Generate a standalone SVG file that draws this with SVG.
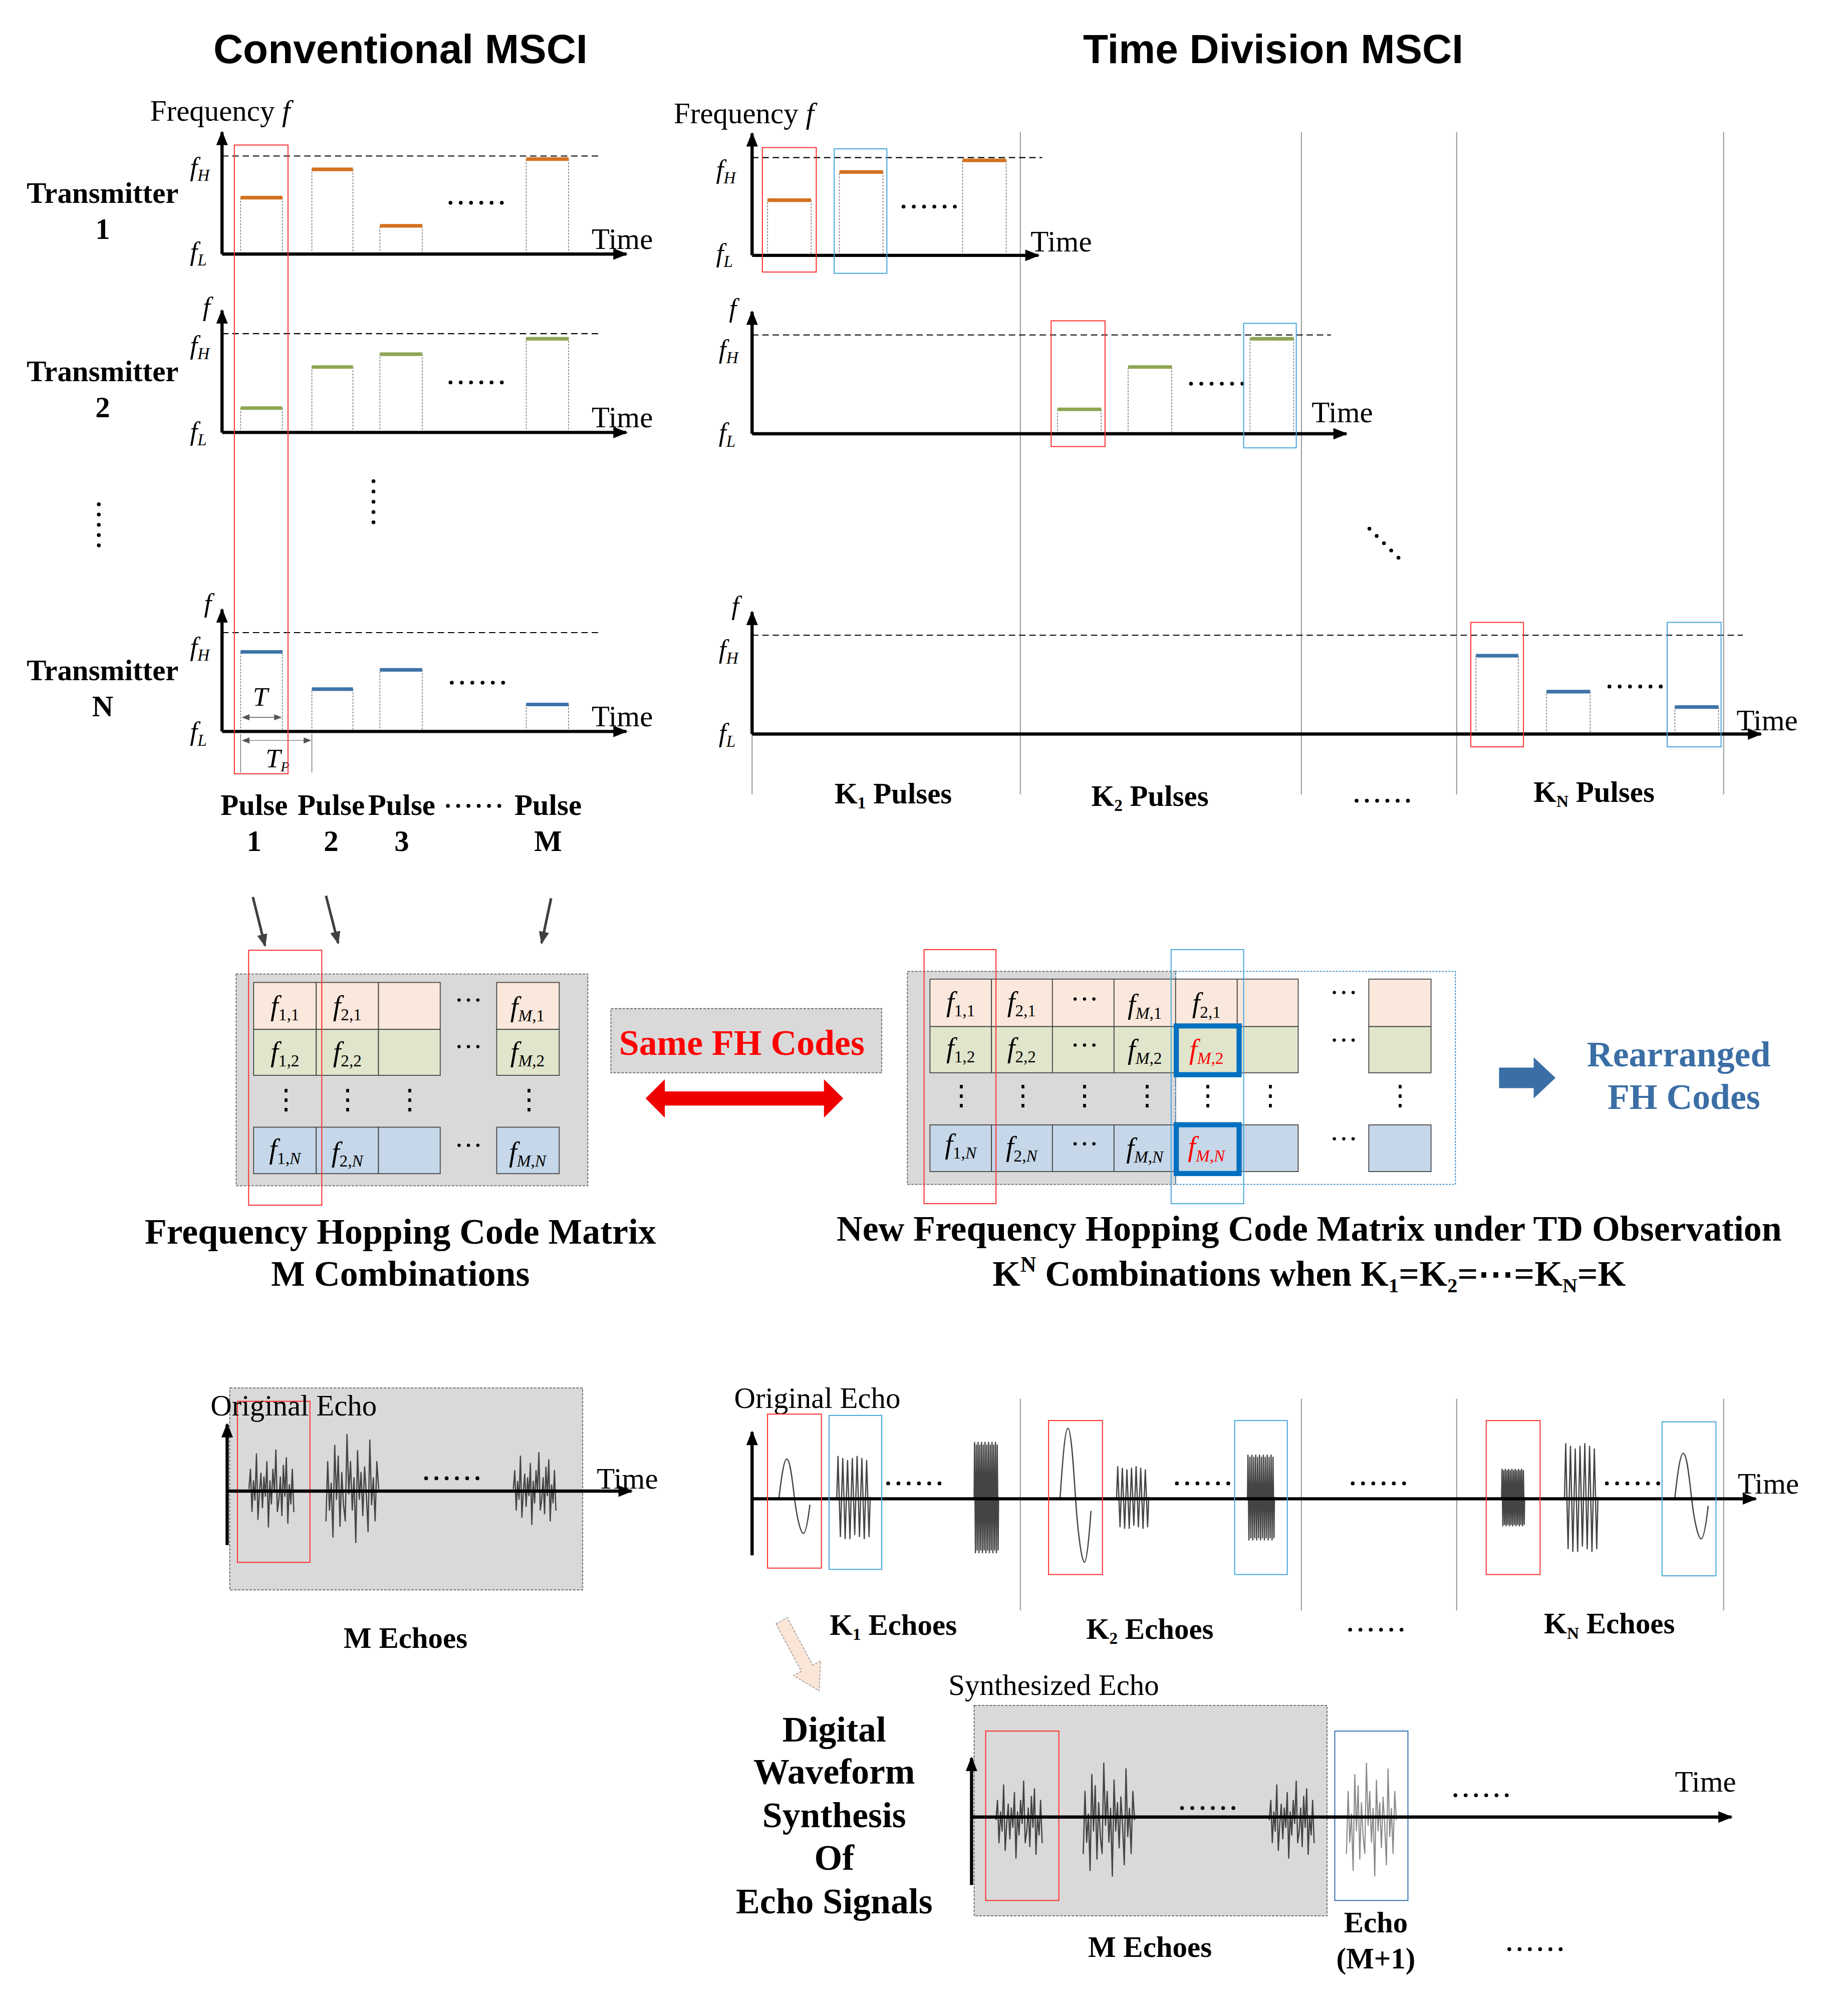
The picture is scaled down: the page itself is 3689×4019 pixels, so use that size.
<svg xmlns="http://www.w3.org/2000/svg" xmlns:xlink="http://www.w3.org/1999/xlink" width="3689" height="4019" viewBox="0 0 3689 4019">
<style>
.t{font-family:"Liberation Serif",serif;font-size:23px}
.tb{font-family:"Liberation Serif",serif;font-weight:bold;font-size:23px}
.cap{font-family:"Liberation Serif",serif;font-weight:bold;font-size:28px}
.ttl{font-family:"Liberation Sans",sans-serif;font-weight:bold;font-size:32px}
.fi{font-family:"Liberation Serif",serif;font-style:italic;font-size:21px}
.cell{font-family:"Liberation Serif",serif;font-size:22px}
.ax{stroke:#000;stroke-width:2.5;fill:none}
.dash{stroke:#000;stroke-width:0.8;stroke-dasharray:5 3;fill:none}
.bar{stroke:#777;stroke-width:0.6;stroke-dasharray:1.5 1;fill:none}
.or{stroke:#d3711f;stroke-width:2.8}
.gr{stroke:#8ea553;stroke-width:2.8}
.bl{stroke:#3e73a9;stroke-width:2.8}
.rb{fill:none;stroke:#f33;stroke-width:0.8}
.bb{fill:none;stroke:#49a6dc;stroke-width:0.8}
.vl{stroke:#999;stroke-width:0.8}
.dots{stroke:#000;stroke-width:3;stroke-linecap:round;stroke-dasharray:0 8}
.wv{fill:none;stroke:#444;stroke-width:2.5px}
.wl{fill:none;stroke:#888;stroke-width:2.2px}
.ns{vector-effect:non-scaling-stroke;stroke-linejoin:round;stroke-linecap:round}
.gbox{fill:#d9d9d9;stroke:#666;stroke-width:0.7;stroke-dasharray:2 1}
.c1{fill:#fbe8dc;stroke:#444;stroke-width:0.7}
.c2{fill:#e0e5cc;stroke:#444;stroke-width:0.7}
.c3{fill:#c5d7e8;stroke:#444;stroke-width:0.7}
.sm{font-size:13px}
</style>
<defs>
<marker id="ah" viewBox="0 0 10 8" refX="9" refY="4" markerWidth="12" markerHeight="9" markerUnits="userSpaceOnUse" orient="auto"><path d="M0,0L10,4L0,8z" fill="#000"/></marker>
<marker id="ah2" viewBox="0 0 10 8" refX="9" refY="4" markerWidth="10" markerHeight="8" markerUnits="userSpaceOnUse" orient="auto"><path d="M0,0L10,4L0,8z" fill="#404040"/></marker>
<marker id="sa" viewBox="0 0 10 8" refX="9" refY="4" markerWidth="6" markerHeight="5" markerUnits="userSpaceOnUse" orient="auto-start-reverse"><path d="M0,0L10,4L0,8z" fill="#555"/></marker>
<polyline id="n1" class="ns" points="0,0 1.2,-0.5 2.4,0.6 3.6,-0.2 4.8,0.3 6,-0.9 7.2,0.8 8.4,0.1 9.6,-0.4 10.8,0.5 12,-0.3 13.2,0.2 14.4,-0.7 15.6,1 16.8,-0.2 18,0.4 19.2,-0.5 20.4,0.1 21.6,-1 22.8,0.6 24,0.3 25.2,-0.3 26.4,0.7 27.6,-0.6 28.8,0.2 30,-0.8 31.2,0.9 32.4,-0.1 33.6,0.4 34.8,-0.5 36,0.6"/>
<polyline id="zzA" class="ns" points="0,0 0.5,-1 1.5,0.95 2.5,-0.95 3.5,1 4.5,-0.9 5.5,1 6.5,-0.95 7.5,0.9 8.5,-1 9.5,0.95 10.5,-0.95 11.5,1 12.5,-0.9 13.5,0.95 14,0"/>
<polyline id="zzB" class="ns" points="0,0 0.5,-1 1.5,1 2.5,-0.95 3.5,0.95 4.5,-1 5.5,1 6.5,-0.95 7.5,0.95 8.5,-1 9.5,1 10.5,-0.95 11.5,0.95 12.5,-1 13.5,1 14.5,-0.95 15.5,0.95 16.5,-1 17.5,1 18.5,-0.95 19.5,0.95 20.5,-1 21.5,1 22.5,-0.95 23.5,0.95 24.5,-1 25.5,1 26.5,-0.95 27.5,0.95 28,0"/>
<path id="sine" class="ns" d="M0,0 C2,-17 4,-30 6,-30 C9,-30 11,-7 12,0 C14,17 17,28 19,28 C21,28 23,14 24,6"/>
</defs>
<rect width="3689" height="4019" fill="#fff"/>
<g transform="scale(2.562)">
<g id="titles">
<text class="ttl" x="312" y="49" text-anchor="middle">Conventional MSCI</text>
<text class="ttl" x="992" y="49" text-anchor="middle">Time Division MSCI</text>
</g>

<g id="conventional-panels">
<text class="t" x="117" y="94">Frequency <tspan font-style="italic">f</tspan></text>
<line class="dash" x1="173" y1="121.6" x2="467" y2="121.6"/>
<path class="bar" d="M187.5,198V154M220,154V198M243,198V132M275,132V198M296,198V176M329,176V198M410,198V124M443,124V198"/>
<line class="or" x1="187.5" y1="154" x2="220" y2="154"/><line class="or" x1="243" y1="132" x2="275" y2="132"/><line class="or" x1="296" y1="176" x2="329" y2="176"/><line class="or" x1="410" y1="124" x2="443" y2="124"/>
<line class="ax" x1="173" y1="198" x2="173" y2="103" marker-end="url(#ah)"/>
<line class="ax" x1="173" y1="198" x2="488" y2="198" marker-end="url(#ah)"/>
<line class="dots" x1="351" y1="158" x2="392" y2="158"/>
<text class="t" x="461" y="194">Time</text>
<text class="fi" x="148" y="137">f<tspan class="sm" dy="4">H</tspan></text>
<text class="fi" x="148" y="203">f<tspan class="sm" dy="4">L</tspan></text>
<text class="tb" x="80" y="158" text-anchor="middle">Transmitter</text>
<text class="tb" x="80" y="186" text-anchor="middle">1</text>
<line class="dash" x1="173" y1="260" x2="467" y2="260"/>
<path class="bar" d="M187.5,337V318M220,318V337M243,337V286M275,286V337M296,337V276M329,276V337M410,337V263M443,263V337"/>
<line class="gr" x1="187.5" y1="318" x2="220" y2="318"/><line class="gr" x1="243" y1="286" x2="275" y2="286"/><line class="gr" x1="296" y1="276" x2="329" y2="276"/><line class="gr" x1="410" y1="264" x2="443" y2="264"/>
<line class="ax" x1="173" y1="337" x2="173" y2="242" marker-end="url(#ah)"/>
<line class="ax" x1="173" y1="337" x2="488" y2="337" marker-end="url(#ah)"/>
<line class="dots" x1="351" y1="298" x2="392" y2="298"/>
<text class="t" x="461" y="333">Time</text>
<text class="fi" x="158" y="246">f</text>
<text class="fi" x="148" y="276">f<tspan class="sm" dy="4">H</tspan></text>
<text class="fi" x="148" y="343">f<tspan class="sm" dy="4">L</tspan></text>
<text class="tb" x="80" y="297" text-anchor="middle">Transmitter</text>
<text class="tb" x="80" y="325" text-anchor="middle">2</text>
<line class="dots" x1="77" y1="393" x2="77" y2="432"/>
<line class="dots" x1="291" y1="375" x2="291" y2="414"/>
<line class="dash" x1="173" y1="493" x2="467" y2="493"/>
<path class="bar" d="M187.5,570V507M220,507V570M243,570V537M275,537V570M296,570V522M329,522V570M410,570V549M443,549V570"/>
<line class="bl" x1="187.5" y1="508" x2="220" y2="508"/><line class="bl" x1="243" y1="537" x2="275" y2="537"/><line class="bl" x1="296" y1="522" x2="329" y2="522"/><line class="bl" x1="410" y1="549" x2="443" y2="549"/>
<line class="ax" x1="173" y1="570" x2="173" y2="475" marker-end="url(#ah)"/>
<line class="ax" x1="173" y1="570" x2="488" y2="570" marker-end="url(#ah)"/>
<line class="dots" x1="352" y1="532" x2="393" y2="532"/>
<text class="t" x="461" y="566">Time</text>
<text class="fi" x="159" y="477">f</text>
<text class="fi" x="148" y="511">f<tspan class="sm" dy="4">H</tspan></text>
<text class="fi" x="148" y="577">f<tspan class="sm" dy="4">L</tspan></text>
<text class="tb" x="80" y="530" text-anchor="middle">Transmitter</text>
<text class="tb" x="80" y="558" text-anchor="middle">N</text>
<line stroke="#555" stroke-width="0.6" x1="189" y1="559" x2="219" y2="559" marker-start="url(#sa)" marker-end="url(#sa)"/>
<text class="fi" x="197" y="550" font-size="18">T</text>
<path stroke="#666" stroke-width="0.5" d="M187.5,572V602M243,572V602"/>
<line stroke="#555" stroke-width="0.4" x1="189" y1="577" x2="242" y2="577" marker-start="url(#sa)" marker-end="url(#sa)"/>
<text class="fi" x="207" y="598" font-size="17">T<tspan font-size="11" dy="3">P</tspan></text>
<rect class="rb" x="182.6" y="113" width="41.8" height="490"/>
<text class="tb" x="198" y="635" text-anchor="middle">Pulse</text><text class="tb" x="198" y="663" text-anchor="middle">1</text>
<text class="tb" x="258" y="635" text-anchor="middle">Pulse</text><text class="tb" x="258" y="663" text-anchor="middle">2</text>
<text class="tb" x="313" y="635" text-anchor="middle">Pulse</text><text class="tb" x="313" y="663" text-anchor="middle">3</text>
<line class="dots" x1="349" y1="628" x2="390" y2="628"/>
<text class="tb" x="427" y="635" text-anchor="middle">Pulse</text><text class="tb" x="427" y="663" text-anchor="middle">M</text>
</g>

<g id="td-panels">
<path class="vl" d="M795,103V619M1014,103V619M1135,103V619M1343,103V619M586,572V619"/>
<text class="t" x="525" y="96">Frequency <tspan font-style="italic">f</tspan></text>
<line class="dash" x1="586" y1="122.8" x2="812" y2="122.8"/>
<path class="bar" d="M598,199V156M632,156V199M654,199V134M688,134V199M750,199V125M784,125V199"/>
<line class="or" x1="598" y1="156" x2="632" y2="156"/><line class="or" x1="654" y1="134" x2="688" y2="134"/><line class="or" x1="750" y1="125" x2="784" y2="125"/>
<line class="ax" x1="586" y1="199" x2="586" y2="104" marker-end="url(#ah)"/>
<line class="ax" x1="586" y1="199" x2="809" y2="199" marker-end="url(#ah)"/>
<line class="dots" x1="704" y1="161" x2="745" y2="161"/>
<text class="t" x="803" y="196">Time</text>
<text class="fi" x="558" y="139">f<tspan class="sm" dy="4">H</tspan></text>
<text class="fi" x="558" y="204">f<tspan class="sm" dy="4">L</tspan></text>
<rect class="rb" x="594" y="115" width="42" height="97"/>
<rect class="bb" x="650" y="116" width="41" height="97"/>

<line class="dash" x1="586" y1="261" x2="1037" y2="261"/>
<path class="bar" d="M824,338V319M858,319V338M879,338V286M913,286V338M974,338V264M1008,264V338"/>
<line class="gr" x1="824" y1="319" x2="858" y2="319"/><line class="gr" x1="879" y1="286" x2="913" y2="286"/><line class="gr" x1="974" y1="264" x2="1008" y2="264"/>
<line class="ax" x1="586" y1="338" x2="586" y2="243" marker-end="url(#ah)"/>
<line class="ax" x1="586" y1="338" x2="1049" y2="338" marker-end="url(#ah)"/>
<line class="dots" x1="928" y1="299" x2="969" y2="299"/>
<text class="t" x="1022" y="329">Time</text>
<text class="fi" x="568" y="247">f</text>
<text class="fi" x="560" y="279">f<tspan class="sm" dy="4">H</tspan></text>
<text class="fi" x="560" y="344">f<tspan class="sm" dy="4">L</tspan></text>
<rect class="rb" x="819" y="250" width="42" height="98"/>
<rect class="bb" x="969" y="252" width="41" height="97"/>

<line class="dots" x1="1067" y1="412" x2="1095" y2="440"/>

<line class="dash" x1="586" y1="495" x2="1358" y2="495"/>
<path class="bar" d="M1150,572V511M1183,511V572M1205,572V539M1239,539V572M1305,572V551M1339,551V572"/>
<line class="bl" x1="1150" y1="511" x2="1183" y2="511"/><line class="bl" x1="1205" y1="539" x2="1239" y2="539"/><line class="bl" x1="1305" y1="551" x2="1339" y2="551"/>
<line class="ax" x1="586" y1="572" x2="586" y2="477" marker-end="url(#ah)"/>
<line class="ax" x1="586" y1="572" x2="1372" y2="572" marker-end="url(#ah)"/>
<line class="dots" x1="1254" y1="535" x2="1295" y2="535"/>
<text class="t" x="1353" y="569">Time</text>
<text class="fi" x="570" y="479">f</text>
<text class="fi" x="560" y="513">f<tspan class="sm" dy="4">H</tspan></text>
<text class="fi" x="560" y="578">f<tspan class="sm" dy="4">L</tspan></text>
<rect class="rb" x="1146" y="485" width="41" height="97"/>
<rect class="bb" x="1299" y="485" width="42" height="97"/>

<text class="tb" x="696" y="626" text-anchor="middle">K<tspan class="sm" dy="4">1</tspan><tspan dy="-4"> Pulses</tspan></text>
<text class="tb" x="896" y="628" text-anchor="middle">K<tspan class="sm" dy="4">2</tspan><tspan dy="-4"> Pulses</tspan></text>
<line class="dots" x1="1057" y1="624" x2="1098" y2="624"/>
<text class="tb" x="1242" y="625" text-anchor="middle">K<tspan class="sm" dy="4">N</tspan><tspan dy="-4"> Pulses</tspan></text>
</g>

<g id="connectors">
<line stroke="#404040" stroke-width="2" x1="197" y1="699" x2="206.5" y2="737" marker-end="url(#ah2)"/>
<line stroke="#404040" stroke-width="2" x1="254" y1="698" x2="263.5" y2="735" marker-end="url(#ah2)"/>
<line stroke="#404040" stroke-width="2" x1="429.4" y1="700" x2="422" y2="735" marker-end="url(#ah2)"/>
<path fill="#e00" d="M503,856 L518,841 L518,850.5 L642,850.5 L642,841 L657,856 L642,871 L642,861.5 L518,861.5 L518,871 Z"/>
<path fill="#3b6ea5" d="M1168,832 H1195 V824 L1212,840 L1195,856 V848 H1168 Z"/>
<path fill="#fbe5d6" stroke="#999" stroke-width="0.6" stroke-dasharray="2 1" d="M604.6,1265.4 L613.4,1260.6 L633.2,1297.6 L639.4,1294.3 L638.3,1317.7 L618.2,1305.7 L624.4,1302.4 Z"/>
</g>

<g id="matrix-left">
<rect class="gbox" x="184" y="759" width="274" height="165"/>
<rect class="c1" x="197.6" y="765.6" width="48.8" height="36.6"/><rect class="c1" x="246.4" y="765.6" width="48.5" height="36.6"/><rect class="c1" x="294.9" y="765.6" width="48.1" height="36.6"/><rect class="c1" x="387" y="765.6" width="48.7" height="36.6"/>
<rect class="c2" x="197.6" y="802.2" width="48.8" height="35.8"/><rect class="c2" x="246.4" y="802.2" width="48.5" height="35.8"/><rect class="c2" x="294.9" y="802.2" width="48.1" height="35.8"/><rect class="c2" x="387" y="802.2" width="48.7" height="35.8"/>
<rect class="c3" x="197.6" y="878.4" width="48.8" height="36.2"/><rect class="c3" x="246.4" y="878.4" width="48.5" height="36.2"/><rect class="c3" x="294.9" y="878.4" width="48.1" height="36.2"/><rect class="c3" x="387" y="878.4" width="48.7" height="36.2"/>
<text class="cell" x="222" y="791" text-anchor="middle"><tspan font-style="italic">f</tspan><tspan class="sm" dy="4">1,1</tspan></text>
<text class="cell" x="270.6" y="791" text-anchor="middle"><tspan font-style="italic">f</tspan><tspan class="sm" dy="4">2,1</tspan></text>
<text class="cell" x="411" y="792" text-anchor="middle"><tspan font-style="italic">f</tspan><tspan class="sm" dy="4"><tspan font-style="italic">M</tspan>,1</tspan></text>
<text class="cell" x="222" y="827" text-anchor="middle"><tspan font-style="italic">f</tspan><tspan class="sm" dy="4">1,2</tspan></text>
<text class="cell" x="270.6" y="827" text-anchor="middle"><tspan font-style="italic">f</tspan><tspan class="sm" dy="4">2,2</tspan></text>
<text class="cell" x="411" y="827" text-anchor="middle"><tspan font-style="italic">f</tspan><tspan class="sm" dy="4"><tspan font-style="italic">M</tspan>,2</tspan></text>
<text class="cell" x="222" y="903" text-anchor="middle"><tspan font-style="italic">f</tspan><tspan class="sm" dy="4">1,<tspan font-style="italic">N</tspan></tspan></text>
<text class="cell" x="270.6" y="905" text-anchor="middle"><tspan font-style="italic">f</tspan><tspan class="sm" dy="4">2,<tspan font-style="italic">N</tspan></tspan></text>
<text class="cell" x="411" y="905" text-anchor="middle"><tspan font-style="italic">f</tspan><tspan class="sm" dy="4"><tspan font-style="italic">M</tspan>,<tspan font-style="italic">N</tspan></tspan></text>
<text class="cell" x="365" y="787" text-anchor="middle" font-size="16">···</text>
<text class="cell" x="365" y="823" text-anchor="middle" font-size="16">···</text>
<text class="cell" x="365" y="900" text-anchor="middle" font-size="16">···</text>
<text class="cell" x="222.7" y="864" text-anchor="middle" font-size="16">⋮</text>
<text class="cell" x="270.7" y="864" text-anchor="middle" font-size="16">⋮</text>
<text class="cell" x="319.2" y="864" text-anchor="middle" font-size="16">⋮</text>
<text class="cell" x="412.2" y="864" text-anchor="middle" font-size="16">⋮</text>
<rect class="rb" x="193.7" y="740.5" width="57" height="198.7"/>
<text class="cap" x="312" y="969" text-anchor="middle">Frequency Hopping Code Matrix</text>
<text class="cap" x="312" y="1002" text-anchor="middle">M Combinations</text>
</g>

<g id="same-fh">
<rect class="gbox" x="476" y="786" width="211" height="50"/>
<text class="cap" x="578" y="822" text-anchor="middle" fill="#f00" font-size="29">Same FH Codes</text>
</g>

<g id="matrix-right">
<rect class="gbox" x="707" y="757" width="209" height="166"/>
<rect x="916" y="757" width="218" height="166" fill="none" stroke="#2f86c8" stroke-width="0.7" stroke-dasharray="1.5 1"/>
<g>
<rect class="c1" x="724.6" y="763" width="47.9" height="37"/><rect class="c1" x="772.5" y="763" width="47.5" height="37"/><rect class="c1" x="820" y="763" width="48" height="37"/><rect class="c1" x="868" y="763" width="48" height="37"/><rect class="c1" x="916" y="763" width="48" height="37"/><rect class="c1" x="964" y="763" width="47.5" height="37"/><rect class="c1" x="1066.5" y="763" width="48.5" height="37"/>
<rect class="c2" x="724.6" y="800" width="47.9" height="36"/><rect class="c2" x="772.5" y="800" width="47.5" height="36" stroke="#222" stroke-width="1"/><rect class="c2" x="820" y="800" width="48" height="36"/><rect class="c2" x="868" y="800" width="48" height="36"/><rect class="c2" x="916" y="800" width="48" height="36"/><rect class="c2" x="964" y="800" width="47.5" height="36"/><rect class="c2" x="1066.5" y="800" width="48.5" height="36"/>
<rect class="c3" x="724.6" y="876.6" width="47.9" height="36.4"/><rect class="c3" x="772.5" y="876.6" width="47.5" height="36.4" stroke="#222" stroke-width="1"/><rect class="c3" x="820" y="876.6" width="48" height="36.4"/><rect class="c3" x="868" y="876.6" width="48" height="36.4"/><rect class="c3" x="916" y="876.6" width="48" height="36.4"/><rect class="c3" x="964" y="876.6" width="47.5" height="36.4"/><rect class="c3" x="1066.5" y="876.6" width="48.5" height="36.4"/>
</g>
<text class="cell" x="748.5" y="788" text-anchor="middle"><tspan font-style="italic">f</tspan><tspan class="sm" dy="4">1,1</tspan></text>
<text class="cell" x="796" y="788" text-anchor="middle"><tspan font-style="italic">f</tspan><tspan class="sm" dy="4">2,1</tspan></text>
<text class="cell" x="892" y="790" text-anchor="middle"><tspan font-style="italic">f</tspan><tspan class="sm" dy="4"><tspan font-style="italic">M</tspan>,1</tspan></text>
<text class="cell" x="940" y="789" text-anchor="middle"><tspan font-style="italic">f</tspan><tspan class="sm" dy="4">2,1</tspan></text>
<text class="cell" x="748.5" y="824" text-anchor="middle"><tspan font-style="italic">f</tspan><tspan class="sm" dy="4">1,2</tspan></text>
<text class="cell" x="796" y="824" text-anchor="middle"><tspan font-style="italic">f</tspan><tspan class="sm" dy="4">2,2</tspan></text>
<text class="cell" x="892" y="825" text-anchor="middle"><tspan font-style="italic">f</tspan><tspan class="sm" dy="4"><tspan font-style="italic">M</tspan>,2</tspan></text>
<text class="cell" x="940" y="825" text-anchor="middle" fill="#f00"><tspan font-style="italic">f</tspan><tspan class="sm" dy="4"><tspan font-style="italic">M</tspan>,2</tspan></text>
<text class="cell" x="748.5" y="899" text-anchor="middle"><tspan font-style="italic">f</tspan><tspan class="sm" dy="4">1,<tspan font-style="italic">N</tspan></tspan></text>
<text class="cell" x="796" y="901" text-anchor="middle"><tspan font-style="italic">f</tspan><tspan class="sm" dy="4">2,<tspan font-style="italic">N</tspan></tspan></text>
<text class="cell" x="892" y="902" text-anchor="middle"><tspan font-style="italic">f</tspan><tspan class="sm" dy="4"><tspan font-style="italic">M</tspan>,<tspan font-style="italic">N</tspan></tspan></text>
<text class="cell" x="940" y="901" text-anchor="middle" fill="#f00"><tspan font-style="italic">f</tspan><tspan class="sm" dy="4"><tspan font-style="italic">M</tspan>,<tspan font-style="italic">N</tspan></tspan></text>
<text class="cell" x="845" y="786" text-anchor="middle" font-size="16">···</text>
<text class="cell" x="845" y="822" text-anchor="middle" font-size="16">···</text>
<text class="cell" x="845" y="899" text-anchor="middle" font-size="16">···</text>
<text class="cell" x="1047" y="781" text-anchor="middle" font-size="16">···</text>
<text class="cell" x="1047" y="818" text-anchor="middle" font-size="16">···</text>
<text class="cell" x="1047" y="895" text-anchor="middle" font-size="16">···</text>
<text class="cell" x="749" y="861" text-anchor="middle" font-size="16">⋮</text>
<text class="cell" x="797" y="861" text-anchor="middle" font-size="16">⋮</text>
<text class="cell" x="845" y="861" text-anchor="middle" font-size="16">⋮</text>
<text class="cell" x="894" y="861" text-anchor="middle" font-size="16">⋮</text>
<text class="cell" x="941" y="861" text-anchor="middle" font-size="16">⋮</text>
<text class="cell" x="990" y="861" text-anchor="middle" font-size="16">⋮</text>
<text class="cell" x="1091" y="861" text-anchor="middle" font-size="16">⋮</text>
<rect x="916.5" y="799.5" width="49" height="38" fill="none" stroke="#0070c0" stroke-width="4"/>
<rect x="916.5" y="876.5" width="49" height="38" fill="none" stroke="#0070c0" stroke-width="4"/>
<rect class="rb" x="720" y="740" width="56" height="198"/>
<rect class="bb" x="912.5" y="740" width="56.5" height="198"/>
<text class="cap" x="1020" y="967" text-anchor="middle">New Frequency Hopping Code Matrix under TD Observation</text>
<text class="cap" x="1020" y="1002" text-anchor="middle">K<tspan font-size="17" dy="-11">N</tspan><tspan dy="11"> Combinations when K</tspan><tspan font-size="16" dy="5">1</tspan><tspan dy="-5">=K</tspan><tspan font-size="16" dy="5">2</tspan><tspan dy="-5">=⋯=K</tspan><tspan font-size="16" dy="5">N</tspan><tspan dy="-5">=K</tspan></text>
<text class="cap" x="1308" y="831" text-anchor="middle" fill="#3b6ea5" font-size="29">Rearranged</text>
<text class="cap" x="1312" y="864" text-anchor="middle" fill="#3b6ea5" font-size="29">FH Codes</text>
</g>

<g id="echo-left">
<rect class="gbox" x="179" y="1081.6" width="275" height="157.4"/>
<rect class="rb" x="185" y="1092" width="56.5" height="125.5"/>
<text class="t" x="164" y="1103">Original Echo</text>
<use href="#n1" class="wv" transform="translate(194,1160) scale(0.97,30)"/>
<use href="#n1" class="wv" transform="translate(295,1160) scale(-1.14,42)"/>
<use href="#n1" class="wv" transform="translate(400,1160) scale(0.92,28)"/>
<line class="ax" x1="177" y1="1204" x2="177" y2="1110" marker-end="url(#ah)"/>
<line class="ax" x1="177" y1="1162" x2="492" y2="1162" marker-end="url(#ah)"/>
<line class="dots" x1="332" y1="1152" x2="373" y2="1152"/>
<text class="t" x="465" y="1160">Time</text>
<text class="tb" x="316" y="1284" text-anchor="middle">M Echoes</text>
</g>

<g id="echo-right">
<path class="vl" d="M795,1090V1255M1014,1090V1255M1135,1090V1255M1343,1090V1255"/>
<text class="t" x="572" y="1097">Original Echo</text>
<use href="#sine" class="wv" transform="translate(607,1167)"/>
<use href="#zzA" class="wv" transform="translate(652,1167) scale(1.86,32)"/>
<use href="#zzB" class="wv" transform="translate(759,1167) scale(0.68,43)"/>
<use href="#sine" class="wv" transform="translate(826,1167) scale(1,1.8)"/>
<use href="#zzA" class="wv" transform="translate(870,1167) scale(1.79,24)"/>
<use href="#zzB" class="wv" transform="translate(972,1167) scale(0.75,33)"/>
<use href="#zzB" class="wv" transform="translate(1170,1167) scale(0.64,22)"/>
<use href="#zzA" class="wv" transform="translate(1219,1167) scale(1.86,42)"/>
<use href="#sine" class="wv" transform="translate(1305,1167) scale(1.08,1.15)"/>
<line class="ax" x1="586" y1="1212" x2="586" y2="1116" marker-end="url(#ah)"/>
<line class="ax" x1="586" y1="1168" x2="1368" y2="1168" marker-end="url(#ah)"/>
<rect class="rb" x="598" y="1102" width="42" height="120"/>
<rect class="bb" x="646" y="1103" width="41" height="120"/>
<rect class="rb" x="817" y="1107" width="42" height="120"/>
<rect class="bb" x="962" y="1107" width="41" height="120"/>
<rect class="rb" x="1158" y="1107" width="42" height="120"/>
<rect class="bb" x="1295" y="1108" width="42" height="120"/>
<line class="dots" x1="692" y1="1156" x2="733" y2="1156"/>
<line class="dots" x1="917" y1="1156" x2="958" y2="1156"/>
<line class="dots" x1="1054" y1="1156" x2="1095" y2="1156"/>
<line class="dots" x1="1252" y1="1156" x2="1293" y2="1156"/>
<text class="t" x="1354" y="1164">Time</text>
<text class="tb" x="696" y="1274" text-anchor="middle">K<tspan class="sm" dy="4">1</tspan><tspan dy="-4"> Echoes</tspan></text>
<text class="tb" x="896" y="1277" text-anchor="middle">K<tspan class="sm" dy="4">2</tspan><tspan dy="-4"> Echoes</tspan></text>
<line class="dots" x1="1052" y1="1270" x2="1093" y2="1270"/>
<text class="tb" x="1254" y="1273" text-anchor="middle">K<tspan class="sm" dy="4">N</tspan><tspan dy="-4"> Echoes</tspan></text>
</g>

<g id="synthesis">
<text class="cap" x="650" y="1357" text-anchor="middle">Digital</text>
<text class="cap" x="650" y="1390" text-anchor="middle">Waveform</text>
<text class="cap" x="650" y="1424" text-anchor="middle">Synthesis</text>
<text class="cap" x="650" y="1457" text-anchor="middle">Of</text>
<text class="cap" x="650" y="1491" text-anchor="middle">Echo Signals</text>
<text class="t" x="739" y="1321">Synthesized Echo</text>
<rect class="gbox" x="759" y="1329" width="275" height="164"/>
<rect class="rb" x="768" y="1349" width="57" height="132"/>
<rect x="1040" y="1349" width="57" height="132" fill="none" stroke="#3b74b5" stroke-width="0.8"/>
<use href="#n1" class="wv" transform="translate(776,1418) scale(1,30)"/>
<use href="#n1" class="wv" transform="translate(884,1418) scale(-1.11,44)"/>
<use href="#n1" class="wv" transform="translate(989,1418) scale(0.97,30)"/>
<use href="#n1" class="wl" transform="translate(1088,1418) scale(-1.08,44)"/>
<line class="ax" x1="757" y1="1469" x2="757" y2="1370" marker-end="url(#ah)"/>
<line class="ax" x1="757" y1="1416" x2="1349" y2="1416" marker-end="url(#ah)"/>
<line class="dots" x1="921" y1="1409" x2="962" y2="1409"/>
<line class="dots" x1="1134" y1="1399" x2="1175" y2="1399"/>
<text class="t" x="1305" y="1396">Time</text>
<text class="tb" x="896" y="1525" text-anchor="middle">M Echoes</text>
<text class="tb" x="1072" y="1506" text-anchor="middle">Echo</text>
<text class="tb" x="1072" y="1534" text-anchor="middle">(M+1)</text>
<line class="dots" x1="1176" y1="1519" x2="1217" y2="1519"/>
</g>
</g>
</svg>
